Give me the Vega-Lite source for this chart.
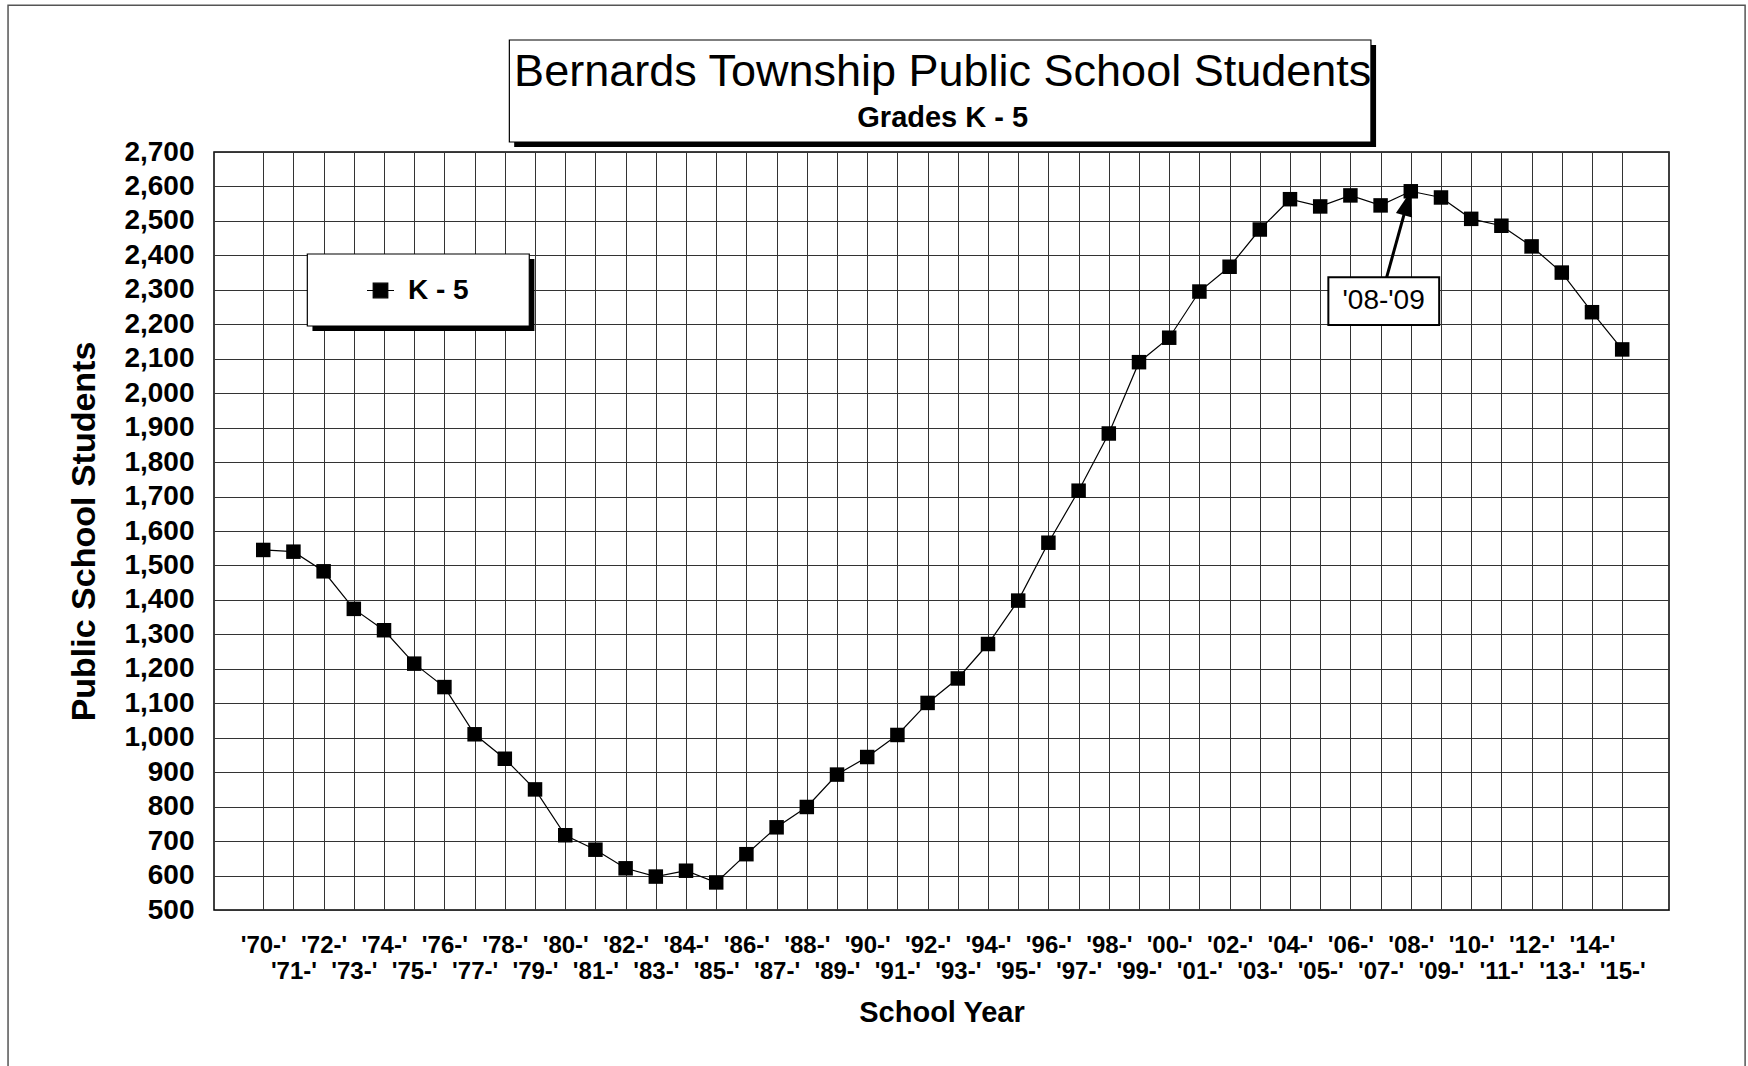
{
  "$schema": "https://vega.github.io/schema/vega-lite/v6.json",
  "width": 1455,
  "height": 758,
  "autosize": {"type": "none"},
  "padding": {"left": 214, "top": 152, "right": 79, "bottom": 156},
  "background": "white",
  "config": {
    "font": "Liberation Sans",
    "view": {"stroke": "black", "strokeWidth": 1.5}
  },
  "datasets": {
    "k5": [
      {"year": 1970, "school_year": "1970-71", "students": 1545, "series": "K - 5"},
      {"year": 1971, "school_year": "1971-72", "students": 1540, "series": "K - 5"},
      {"year": 1972, "school_year": "1972-73", "students": 1483, "series": "K - 5"},
      {"year": 1973, "school_year": "1973-74", "students": 1374, "series": "K - 5"},
      {"year": 1974, "school_year": "1974-75", "students": 1312, "series": "K - 5"},
      {"year": 1975, "school_year": "1975-76", "students": 1215, "series": "K - 5"},
      {"year": 1976, "school_year": "1976-77", "students": 1147, "series": "K - 5"},
      {"year": 1977, "school_year": "1977-78", "students": 1010, "series": "K - 5"},
      {"year": 1978, "school_year": "1978-79", "students": 939, "series": "K - 5"},
      {"year": 1979, "school_year": "1979-80", "students": 850, "series": "K - 5"},
      {"year": 1980, "school_year": "1980-81", "students": 717, "series": "K - 5"},
      {"year": 1981, "school_year": "1981-82", "students": 675, "series": "K - 5"},
      {"year": 1982, "school_year": "1982-83", "students": 621, "series": "K - 5"},
      {"year": 1983, "school_year": "1983-84", "students": 597, "series": "K - 5"},
      {"year": 1984, "school_year": "1984-85", "students": 614, "series": "K - 5"},
      {"year": 1985, "school_year": "1985-86", "students": 580, "series": "K - 5"},
      {"year": 1986, "school_year": "1986-87", "students": 662, "series": "K - 5"},
      {"year": 1987, "school_year": "1987-88", "students": 740, "series": "K - 5"},
      {"year": 1988, "school_year": "1988-89", "students": 799, "series": "K - 5"},
      {"year": 1989, "school_year": "1989-90", "students": 893, "series": "K - 5"},
      {"year": 1990, "school_year": "1990-91", "students": 944, "series": "K - 5"},
      {"year": 1991, "school_year": "1991-92", "students": 1008, "series": "K - 5"},
      {"year": 1992, "school_year": "1992-93", "students": 1101, "series": "K - 5"},
      {"year": 1993, "school_year": "1993-94", "students": 1172, "series": "K - 5"},
      {"year": 1994, "school_year": "1994-95", "students": 1272, "series": "K - 5"},
      {"year": 1995, "school_year": "1995-96", "students": 1398, "series": "K - 5"},
      {"year": 1996, "school_year": "1996-97", "students": 1566, "series": "K - 5"},
      {"year": 1997, "school_year": "1997-98", "students": 1717, "series": "K - 5"},
      {"year": 1998, "school_year": "1998-99", "students": 1883, "series": "K - 5"},
      {"year": 1999, "school_year": "1999-00", "students": 2090, "series": "K - 5"},
      {"year": 2000, "school_year": "2000-01", "students": 2161, "series": "K - 5"},
      {"year": 2001, "school_year": "2001-02", "students": 2295, "series": "K - 5"},
      {"year": 2002, "school_year": "2002-03", "students": 2367, "series": "K - 5"},
      {"year": 2003, "school_year": "2003-04", "students": 2475, "series": "K - 5"},
      {"year": 2004, "school_year": "2004-05", "students": 2563, "series": "K - 5"},
      {"year": 2005, "school_year": "2005-06", "students": 2542, "series": "K - 5"},
      {"year": 2006, "school_year": "2006-07", "students": 2574, "series": "K - 5"},
      {"year": 2007, "school_year": "2007-08", "students": 2545, "series": "K - 5"},
      {"year": 2008, "school_year": "2008-09", "students": 2586, "series": "K - 5"},
      {"year": 2009, "school_year": "2009-10", "students": 2568, "series": "K - 5"},
      {"year": 2010, "school_year": "2010-11", "students": 2506, "series": "K - 5"},
      {"year": 2011, "school_year": "2011-12", "students": 2486, "series": "K - 5"},
      {"year": 2012, "school_year": "2012-13", "students": 2426, "series": "K - 5"},
      {"year": 2013, "school_year": "2013-14", "students": 2350, "series": "K - 5"},
      {"year": 2014, "school_year": "2014-15", "students": 2235, "series": "K - 5"},
      {"year": 2015, "school_year": "2015-16", "students": 2127, "series": "K - 5"}
    ]
  },
  "encoding": {
    "x": {
      "type": "quantitative",
      "scale": {"domain": [1968.37, 2016.55], "nice": false, "zero": false},
      "axis": {
        "values": [1970,1971,1972,1973,1974,1975,1976,1977,1978,1979,1980,1981,1982,1983,1984,1985,1986,1987,1988,1989,1990,1991,1992,1993,1994,1995,1996,1997,1998,1999,2000,2001,2002,2003,2004,2005,2006,2007,2008,2009,2010,2011,2012,2013,2014,2015],
        "labelExpr": "datum.value % 2 == 0 ? [\"'\" + substring(toString(datum.value), 2, 4) + \"-'\", \"\"] : [\"\", \"'\" + substring(toString(datum.value), 2, 4) + \"-'\"]",
        "labelFont": "Liberation Sans",
        "labelFontSize": 24,
        "labelFontWeight": "bold",
        "labelColor": "black",
        "labelPadding": 23,
        "labelLineHeight": 26,
        "labelBaseline": "top",
        "labelAngle": 0,
        "labelOverlap": false,
        "labelFlush": false,
        "ticks": false,
        "domain": false,
        "grid": true,
        "gridColor": "#333333",
        "gridWidth": 1,
        "gridOpacity": 1,
        "title": "School Year",
        "titleFont": "Liberation Sans",
        "titleFontSize": 29,
        "titleFontWeight": "bold",
        "titleColor": "black",
        "titlePadding": 15
      }
    },
    "y": {
      "type": "quantitative",
      "scale": {"domain": [500, 2700], "nice": false, "zero": false},
      "axis": {
        "values": [500,600,700,800,900,1000,1100,1200,1300,1400,1500,1600,1700,1800,1900,2000,2100,2200,2300,2400,2500,2600,2700],
        "format": ",d",
        "labelFont": "Liberation Sans",
        "labelFontSize": 28,
        "labelFontWeight": "bold",
        "labelColor": "black",
        "labelPadding": 20,
        "labelOverlap": false,
        "labelFlush": false,
        "ticks": false,
        "domain": false,
        "grid": true,
        "gridColor": "#333333",
        "gridWidth": 1,
        "gridOpacity": 1,
        "title": "Public School Students",
        "titleFont": "Liberation Sans",
        "titleFontSize": 34,
        "titleFontWeight": "bold",
        "titleColor": "black",
        "titlePadding": 22
      }
    }
  },
  "layer": [
    {
      "data": {"values": [{}]},
      "mark": {"type": "rect", "fill": "white", "fillOpacity": 0, "stroke": "#555555", "strokeWidth": 1.5},
      "encoding": {
        "x": {"datum": 1961.55},
        "x2": {"datum": 2019.07},
        "y": {"datum": 0},
        "y2": {"datum": 3126}
      }
    },
    {
      "data": {"values": [{}]},
      "mark": {"type": "rect", "fill": "black"},
      "encoding": {
        "x": {"datum": 1978.31},
        "x2": {"datum": 2006.85},
        "y": {"datum": 2714.5},
        "y2": {"datum": 3010.5}
      }
    },
    {
      "data": {"values": [{}]},
      "mark": {"type": "rect", "fill": "white", "stroke": "black", "strokeWidth": 1.2},
      "encoding": {
        "x": {"datum": 1978.15},
        "x2": {"datum": 2006.68},
        "y": {"datum": 2729},
        "y2": {"datum": 3025}
      }
    },
    {
      "data": {"values": [{"t": "Bernards Township Public School Students"}]},
      "mark": {"type": "text", "font": "Liberation Sans", "fontSize": 45, "align": "center", "baseline": "middle", "color": "black"},
      "encoding": {
        "x": {"datum": 1992.5},
        "y": {"datum": 2932},
        "text": {"field": "t"}
      }
    },
    {
      "data": {"values": [{"t": "Grades K - 5"}]},
      "mark": {"type": "text", "font": "Liberation Sans", "fontSize": 29, "fontWeight": "bold", "align": "center", "baseline": "middle", "color": "black"},
      "encoding": {
        "x": {"datum": 1992.5},
        "y": {"datum": 2799},
        "text": {"field": "t"}
      }
    },
    {
      "data": {"values": [{}]},
      "mark": {"type": "rect", "fill": "black"},
      "encoding": {
        "x": {"datum": 1971.63},
        "x2": {"datum": 1978.98},
        "y": {"datum": 2180.5},
        "y2": {"datum": 2389.5}
      }
    },
    {
      "data": {"values": [{}]},
      "mark": {"type": "rect", "fill": "white", "stroke": "black", "strokeWidth": 1.2},
      "encoding": {
        "x": {"datum": 1971.46},
        "x2": {"datum": 1978.81},
        "y": {"datum": 2195},
        "y2": {"datum": 2404}
      }
    },
    {
      "data": {"name": "k5"},
      "mark": {"type": "line", "color": "black", "strokeWidth": 1.2},
      "encoding": {
        "x": {"field": "year"},
        "y": {"field": "students"}
      }
    },
    {
      "data": {"name": "k5"},
      "mark": {"type": "point", "shape": "square", "filled": true, "size": 210, "opacity": 1},
      "encoding": {
        "x": {"field": "year"},
        "y": {"field": "students"},
        "color": {
          "field": "series",
          "type": "nominal",
          "scale": {"range": ["black"]},
          "legend": {
            "orient": "none",
            "legendX": 130,
            "legendY": 102,
            "title": null,
            "padding": 22,
            "labelOffset": 13,
            "symbolType": "M-1,0H1M-0.54,-0.54H0.54V0.54H-0.54Z",
            "symbolSize": 729,
            "symbolFillColor": "black",
            "symbolStrokeColor": "black",
            "symbolStrokeWidth": 1.2,
            "symbolOpacity": 1,
            "labelFont": "Liberation Sans",
            "labelFontSize": 28,
            "labelFontWeight": "bold",
            "labelColor": "black",
            "encode": {
              "symbols": {"update": {"stroke": {"value": "black"}, "strokeWidth": {"value": 1.2}, "fill": {"value": "black"}, "opacity": {"value": 1}}}
            }
          }
        }
      }
    },
    {
      "data": {"values": [{}]},
      "mark": {"type": "rule", "color": "black", "strokeWidth": 3},
      "encoding": {
        "x": {"datum": 2007.2},
        "x2": {"datum": 2007.86},
        "y": {"datum": 2336},
        "y2": {"datum": 2545}
      }
    },
    {
      "data": {"values": [{}]},
      "mark": {"type": "point", "shape": "M0,0L0.6,1.8L-0.6,1.8Z", "size": 784, "filled": true, "color": "black", "opacity": 1, "angle": 15.6},
      "encoding": {
        "x": {"datum": 2008.0},
        "y": {"datum": 2587}
      }
    },
    {
      "data": {"values": [{}]},
      "mark": {"type": "rect", "fill": "white", "stroke": "black", "strokeWidth": 2},
      "encoding": {
        "x": {"datum": 2005.27},
        "x2": {"datum": 2008.94},
        "y": {"datum": 2197.9},
        "y2": {"datum": 2336.3}
      }
    },
    {
      "data": {"values": [{"t": "'08-'09"}]},
      "mark": {"type": "text", "font": "Liberation Sans", "fontSize": 28, "align": "center", "baseline": "middle", "color": "black"},
      "encoding": {
        "x": {"datum": 2007.1},
        "y": {"datum": 2267},
        "text": {"field": "t"}
      }
    }
  ]
}
